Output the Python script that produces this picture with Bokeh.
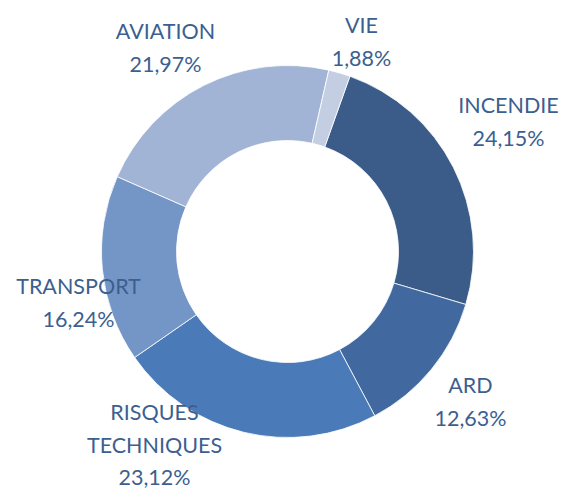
import math
from bokeh.plotting import figure
from bokeh.models import ColumnDataSource, Range1d
from bokeh.core.properties import value
from bokeh.embed import file_html
from bokeh.resources import INLINE

# ---- data ----
categories = ["INCENDIE", "ARD", "RISQUES\nTECHNIQUES", "TRANSPORT", "AVIATION", "VIE"]
shares = [24.15, 12.63, 23.12, 16.24, 21.97, 1.88]
colors = ["#3B5C89", "#41699F", "#4A7AB7", "#7496C7", "#A2B4D5", "#C4CEE3"]

# label block centres (figure pixel coords, y measured from bottom)
label_x = [508, 470, 154, 78, 165, 361]
label_y = [371, 91, 48, 190, 445, 451]

W, H = 562, 492
cx, cy = 287, 241
r_out, r_in = 186, 111
start_clock_deg = 19.6  # first slice starts this far clockwise from 12 o'clock

total = sum(shares)
starts, ends = [], []
acc = 0.0
for v in shares:
    a0 = start_clock_deg + 360.0 * acc / total
    acc += v
    a1 = start_clock_deg + 360.0 * acc / total
    starts.append(math.radians(90 - a0))
    ends.append(math.radians(90 - a1))

src = ColumnDataSource(dict(
    x=[cx] * len(shares), y=[cy] * len(shares),
    start=starts, end=ends, color=colors,
))

p = figure(width=W, height=H, output_backend="svg", toolbar_location=None,
           x_range=Range1d(0, W), y_range=Range1d(0, H),
           x_axis_type=None, y_axis_type=None, min_border=0,
           background_fill_color="white", border_fill_color="white")
p.outline_line_color = None
p.grid.visible = False

p.annular_wedge(x="x", y="y", inner_radius=r_in, outer_radius=r_out,
                start_angle="start", end_angle="end", direction="clock",
                fill_color="color", line_color="white", line_width=0.8,
                source=src)

texts = [f"{c}\n{v:.2f}".replace(".", ",") + "%" for c, v in zip(categories, shares)]
lsrc = ColumnDataSource(dict(x=label_x, y=label_y, t=texts))
p.text(x="x", y="y", text="t", source=lsrc,
       text_font=value("Lato"), text_font_size="21.5px",
       text_color="#3C5F8F", text_align="center", text_baseline="middle",
       text_line_height=1.25)

open("out.html", "w").write(file_html(p, INLINE))
